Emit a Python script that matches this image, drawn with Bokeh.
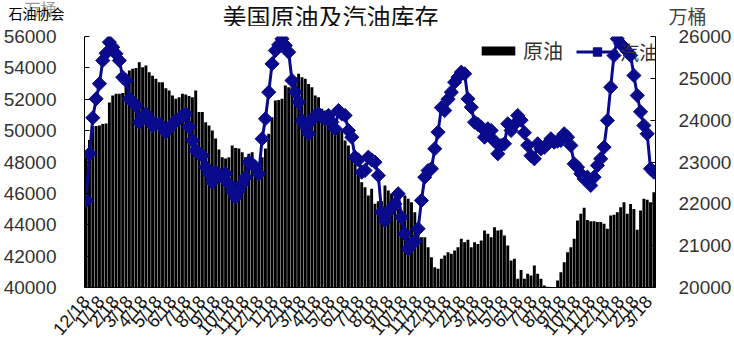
import math
import pandas as pd
from bokeh.plotting import figure
from bokeh.layouts import column
from bokeh.models import (Range1d, LinearAxis, SingleIntervalTicker, FixedTicker,
                          Legend, LegendItem, ColumnDataSource)
from bokeh.core.properties import value
from bokeh.embed import file_html
from bokeh.resources import INLINE

# ---------------- data ----------------
start_date = "2015-12-01"          # first weekly observation
month_labels = ["12/18"] + [f"{m}/18" for m in range(1, 13)] * 3 + ["1/18", "2/18", "3/18"]

# US crude oil stocks (API), 万桶 -- left axis
crude = [
    48300, 49400, 50300, 50300, 50330, 50430, 50450, 51800, 52240, 52350,
    52350, 52400, 53200, 53830, 53940, 54000, 54360, 54040, 54150, 53720,
    53500, 53300, 53090, 53090, 52700, 52560, 52240, 52030, 52130, 52350,
    52300, 52200, 52130, 52560, 51180, 51180, 50540, 50330, 50010, 49500,
    48800, 48300, 48220, 48300, 49050, 48900, 48860, 48620, 48300, 48520,
    48620, 47900, 47700, 48300, 48860, 49800, 50860, 51920, 51950, 52030,
    52880, 52770, 52770, 53400, 53620, 53400, 53300, 52980, 52770, 52240,
    52130, 51390, 51280, 51070, 51070, 50750, 50220, 50010, 49370, 49050,
    48410, 47880, 47350, 46710, 46390, 45860, 46290, 45340, 45500, 45500,
    46500, 46180, 45970, 45340, 45000, 44480, 45860, 45650, 45440, 44800,
    43840, 43200, 43200, 42570, 41930, 41290, 41190, 41830, 42040, 42250,
    42150, 42360, 42570, 43100, 42890, 43040, 42570, 42890, 42780, 43000,
    43630, 43420, 43200, 43840, 43630, 43680, 43310, 42680, 41720, 41830,
    40550, 41120, 40550, 40870, 40760, 41400, 40870, 40550, 40130, 40050,
    40020, 40030, 40450, 40970, 41610, 42250, 42570, 43100, 44270, 44700,
    45080, 44310, 44230, 44230, 44170, 44170, 44060, 43740, 44590, 44640,
    44800, 45120, 45440, 44700, 45330, 45010, 43680, 44910, 45650, 45600,
    45440, 46070,
]

# US gasoline stocks, 万桶 -- right axis
gasoline = [
    22080, 23196, 24057, 24510, 24870, 25426, 25600, 25864, 25745, 25586,
    25426, 25027, 24948, 24510, 24430, 24350, 23952, 24050, 24152, 24033,
    23873, 23913, 23913, 23833, 23713, 23794, 23900, 23993, 24033, 24100,
    24152, 23833, 23514, 23275, 23200, 23156, 22876, 22719, 22518, 22757,
    22700, 22637, 22719, 22479, 22300, 22160, 22319, 22479, 22637, 22996,
    22950, 22876, 22719, 23555, 24033, 24669, 25347, 25665, 25800, 25945,
    25785, 25625, 24948, 24669, 24430, 23993, 23850, 23674, 24000, 24112,
    24152, 24080, 24033, 24112, 23950, 23794, 24231, 24150, 24112, 23753,
    23594, 23115, 23050, 22757, 22797, 23115, 23050, 22996, 22678, 21801,
    21602, 21801, 21900, 22001, 22240, 21681, 21285, 20926, 21045, 21100,
    21404, 22080, 22637, 22797, 22838, 23316, 23713, 24300, 24231, 24500,
    24669, 24908, 25027, 25147, 25108, 24510, 24310, 23952, 23900, 23833,
    23594, 23794, 23753, 23500, 23196, 23395, 23435, 23913, 23753, 23900,
    24112, 24000, 23700, 23400, 23150, 23077, 23435, 23316, 23350, 23435,
    23555, 23474, 23500, 23514, 23674, 23594, 23395, 22957, 22876, 22719,
    22599, 22637, 22439, 22637, 22917, 23077, 23354, 23993, 24788, 25546,
    25945, 25825, 25745, 25650, 25546, 25068, 24590, 24200, 23873, 23674,
    22838, 22757,
]

title_text = "美国原油及汽油库存"
series_names = ["原油", "汽油"]
unit_text = "万桶"
source_text = "石油协会"

# ---------------- layout ----------------
CJK = "Noto Sans CJK SC"
NUM = "Liberation Sans"
W, HEAD_H = 734, 26
MAIN_H = 356 - HEAD_H

N = len(crude)
weeks = pd.date_range(start_date, periods=N, freq="7D")
month_starts = pd.date_range(start_date, periods=len(month_labels), freq="MS")
tick_pos = [round((d - weeks[0]).days / 7.0, 3) for d in month_starts]

# header strip: title and unit texts (pixel coordinates, y downward)
head = figure(width=W, height=HEAD_H, output_backend="svg", toolbar_location=None,
              x_range=Range1d(0, W), y_range=Range1d(HEAD_H, 0), title=None,
              min_border=0, outline_line_color=None, x_axis_type=None,
              y_axis_type=None, background_fill_color="white",
              border_fill_color="white")
head.frame_align = False
head.grid.visible = False
head.text(x=[24], y=[-5], text=[unit_text], text_font=value(CJK),
          text_font_size="16px", text_color="#9a9a9a", text_baseline="top")
head.text(x=[8], y=[2], text=[source_text], text_font=value(CJK),
          text_font_size="14px", text_color="#000000", text_baseline="top")
head.text(x=[222], y=[-3], text=[title_text], text_font=value(CJK),
          text_font_size="24px", text_color="#111111", text_baseline="top")
head.text(x=[668], y=[1], text=[unit_text], text_font=value(CJK),
          text_font_size="19px", text_color="#444444", text_baseline="top")

src = ColumnDataSource(dict(x=list(range(N)), crude=crude, gas=gasoline,
                            base=[40000] * N))

p = figure(width=W, height=MAIN_H, output_backend="svg", toolbar_location=None,
           x_range=Range1d(-0.5, N - 0.5), y_range=Range1d(40000, 56000), title=None,
           min_border_left=82, min_border_right=76, min_border_top=36 - HEAD_H,
           min_border_bottom=69, outline_line_color=None,
           background_fill_color="white", border_fill_color="white")
p.frame_align = False
p.extra_y_ranges = {"gas": Range1d(20000, 26000)}
p.xgrid.visible = False
p.ygrid.visible = False

bars = p.vbar(x="x", top="crude", bottom="base", width=0.88, source=src,
              fill_color="black", line_color=None)
line = p.line(x="x", y="gas", source=src, y_range_name="gas",
              line_color="#0A0A8C", line_width=3)
pts = p.scatter(x="x", y="gas", source=src, y_range_name="gas", marker="square",
                angle=math.pi / 4, size=10, fill_color="#0A0A8C", line_color="#0A0A8C")

# left axis
ya = p.yaxis[0]
ya.ticker = SingleIntervalTicker(interval=2000)
ya.major_tick_in = 5
ya.major_tick_out = 0
ya.minor_tick_line_color = None
ya.axis_line_color = "black"
ya.major_label_standoff = 24
ya.major_label_text_font = NUM
ya.major_label_text_font_size = "19px"
ya.major_label_text_color = "#333333"

# right axis
ra = LinearAxis(y_range_name="gas", ticker=SingleIntervalTicker(interval=1000))
ra.major_tick_in = 5
ra.major_tick_out = 0
ra.minor_tick_line_color = None
ra.axis_line_color = "black"
ra.major_label_standoff = 19
ra.major_label_text_font = NUM
ra.major_label_text_font_size = "19px"
ra.major_label_text_color = "#333333"
p.add_layout(ra, "right")

# bottom axis
xa = p.xaxis[0]
xa.ticker = FixedTicker(ticks=tick_pos)
xa.major_label_overrides = {t: lab for t, lab in zip(tick_pos, month_labels)}
xa.major_label_orientation = 0.86
xa.major_tick_in = 0
xa.major_tick_out = 0
xa.minor_tick_line_color = None
xa.axis_line_color = "black"
xa.major_label_standoff = 11
xa.major_label_text_font = NUM
xa.major_label_text_font_size = "18px"
xa.major_label_text_color = "#111111"

# legends (inside the frame, at its top)
leg1 = Legend(items=[LegendItem(label=series_names[0], renderers=[bars])],
              location=(393, 222), orientation="horizontal",
              glyph_width=42, glyph_height=11, label_standoff=4,
              padding=0, margin=0, spacing=0,
              background_fill_alpha=0, border_line_alpha=0,
              label_text_font=CJK, label_text_font_size="20px",
              label_text_color="#333333")
leg2 = Legend(items=[LegendItem(label=series_names[1], renderers=[line, pts])],
              location=(492, 222), orientation="horizontal",
              glyph_width=42, glyph_height=21, label_standoff=2,
              padding=0, margin=0, spacing=0,
              background_fill_alpha=0, border_line_alpha=0,
              label_text_font=CJK, label_text_font_size="19px",
              label_text_color="#333333")
p.add_layout(leg1)
p.add_layout(leg2)

layout = column(head, p, spacing=0)
open("out.html", "w").write(file_html(layout, INLINE))
